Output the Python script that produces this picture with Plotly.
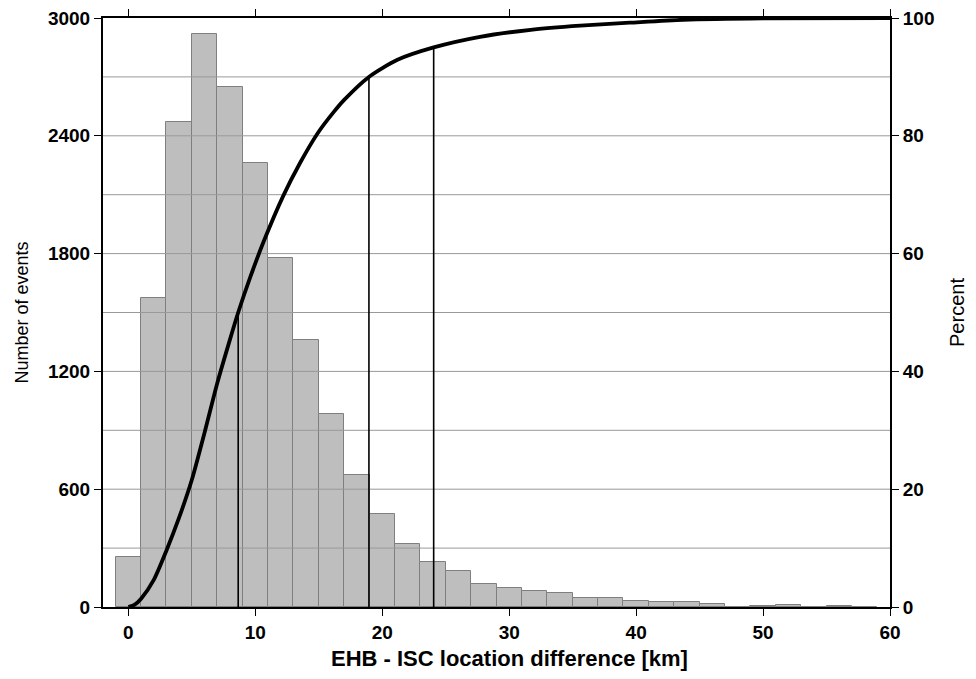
import plotly.graph_objects as go

# ---- data ----
bin_centers = [0, 2, 4, 6, 8, 10, 12, 14, 16, 18, 20, 22, 24, 26, 28,
               30, 32, 34, 36, 38, 40, 42, 44, 46, 48, 50, 52, 54, 56, 58]
event_counts = [255, 1574, 2472, 2919, 2647, 2260, 1778, 1360, 983, 672,
                472, 319, 228, 182, 118, 98, 84, 72, 47, 47,
                33, 23, 23, 16, 2, 6, 11, 2, 5, 0]
bin_width = 2

cdf_x = [0, 0.5, 1, 2, 3, 4, 5, 6, 7, 8, 8.65, 9.6, 10.65, 12.2, 13.5, 14.9,
         16.2, 17, 18.95, 21.2, 24.05, 27.7, 31.7, 35.6, 39.5, 43.7, 50, 60]
cdf_percent = [0, 0.4, 1.4, 4.6, 9.6, 15.2, 21.6, 29.6, 38.0, 45.4, 50, 56.0,
               62.0, 69.8, 75.3, 80.4, 84.1, 86.1, 90, 92.9, 95, 96.8, 98.0,
               98.7, 99.2, 99.7, 99.95, 100]

percentile_x = [8.65, 18.95, 24.05]
percentile_levels = [50, 90, 95]

y_ticks = [0, 600, 1200, 1800, 2400, 3000]
grid_values = list(range(300, 3000, 300))
pct_ticks = [0, 20, 40, 60, 80, 100]
x_ticks = [0, 10, 20, 30, 40, 50, 60]

X_RANGE = [-2, 60]

fig = go.Figure()

fig.add_trace(go.Bar(
    x=bin_centers, y=event_counts, width=bin_width,
    marker=dict(color="#bebebe", line=dict(color="#7f7f7f", width=1)),
    showlegend=False, hoverinfo="skip"))

# gridlines drawn over the bars
gx, gy = [], []
for g in grid_values:
    gx += [X_RANGE[0], X_RANGE[1], None]
    gy += [g, g, None]
fig.add_trace(go.Scatter(x=gx, y=gy, mode="lines",
                         line=dict(color="#999999", width=1),
                         showlegend=False, hoverinfo="skip"))

# percentile markers
for px, lvl in zip(percentile_x, percentile_levels):
    fig.add_trace(go.Scatter(x=[px, px], y=[0, lvl], mode="lines", yaxis="y2",
                             line=dict(color="black", width=1.6),
                             showlegend=False, hoverinfo="skip"))

fig.add_trace(go.Scatter(x=cdf_x, y=cdf_percent, mode="lines", yaxis="y2",
                         line=dict(color="black", width=3.8, shape="spline",
                                   smoothing=0.7),
                         showlegend=False, hoverinfo="skip"))

FAM = "Liberation Sans, Arial, Helvetica, sans-serif"
tickfont = dict(family=FAM, size=19, color="black", weight="bold")

# page body has an 8px margin: size the figure to fit the 976x679 window
fig.update_layout(
    width=960, height=663,
    margin=dict(l=95, r=78, t=10, b=64, pad=0),
    paper_bgcolor="white", plot_bgcolor="white",
    bargap=0,
    xaxis=dict(range=X_RANGE, tickvals=x_ticks, ticks="outside", ticklen=7,
               tickwidth=1, tickcolor="black", showline=True, linecolor="black",
               linewidth=2, mirror="ticks", showgrid=False, zeroline=False,
               tickfont=tickfont, automargin=False, ticklabeloverflow="allow"),
    yaxis=dict(range=[0, 3000], tickvals=y_ticks, ticks="outside", ticklen=7,
               tickwidth=1, tickcolor="black", showline=True, linecolor="black",
               linewidth=2, showgrid=False, zeroline=False, tickfont=tickfont,
               automargin=False, ticklabeloverflow="allow",
               title=dict(text="Number of events",
                          font=dict(family=FAM, size=18, color="black"),
                          standoff=15)),
    yaxis2=dict(range=[0, 100], tickvals=pct_ticks, overlaying="y", side="right",
                ticks="outside", ticklen=7, tickwidth=1, tickcolor="black",
                showline=True, linecolor="black", linewidth=2, showgrid=False,
                zeroline=False, tickfont=tickfont, automargin=False,
                ticklabeloverflow="allow",
                title=dict(text="Percent",
                           font=dict(family=FAM, size=20, color="black"),
                           standoff=26)),
    annotations=[dict(text="EHB - ISC location difference [km]",
                      xref="paper", yref="paper", x=0.517, y=0,
                      xanchor="center", yanchor="middle", yshift=-51,
                      showarrow=False,
                      font=dict(family=FAM, size=22, color="black",
                                weight="bold"))],
)

fig.write_html("out.html")
